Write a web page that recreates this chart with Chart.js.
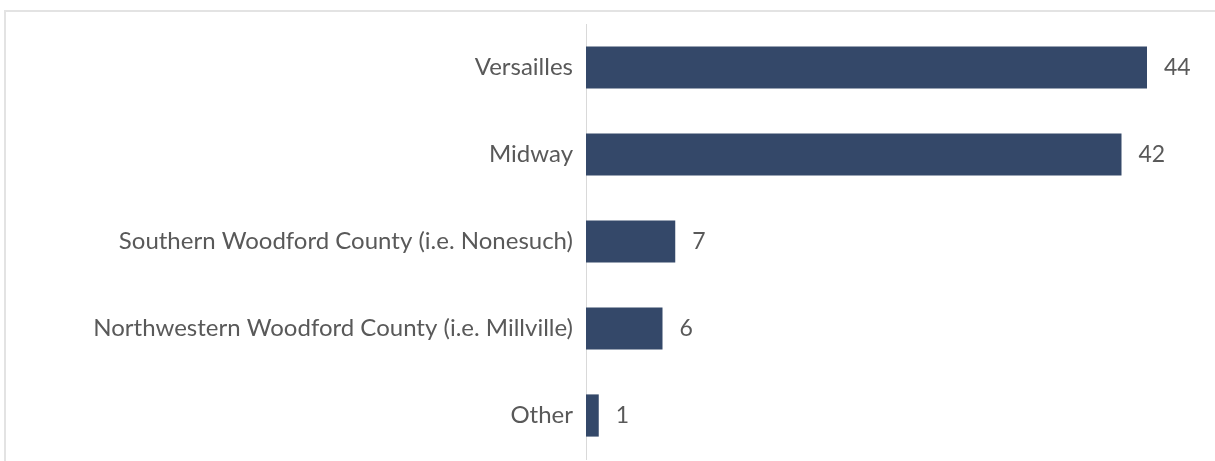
<!DOCTYPE html>
<html>
<head>
<meta charset="utf-8">
<script src="https://cdn.jsdelivr.net/npm/chart.js@4"></script>
<style>
  html, body { margin: 0; padding: 0; background: #fff; overflow: hidden; }
  #frame { position: absolute; left: 4px; top: 10px; width: 1220px; height: 470px;
           border-top: 2px solid #e3e3e3; border-left: 2px solid #e3e3e3; }
  #chart { position: absolute; left: 0; top: 0; }
</style>
</head>
<body>
<div id="frame"></div>
<canvas id="chart" width="1215" height="461"></canvas>
<script>
// dados do gráfico
const categories = [
  'Versailles',
  'Midway',
  'Southern Woodford County (i.e. Nonesuch)',
  'Northwestern Woodford County (i.e. Millville)',
  'Other'
];
const counts = [44, 42, 7, 6, 1];

const barColor = '#344869';
const textColor = '#595959';
const fontFamily = 'Lato, "Open Sans", sans-serif';

// rótulos de valor ao lado das barras
const valueLabels = {
  id: 'valueLabels',
  afterDatasetsDraw(chart) {
    const ctx = chart.ctx;
    const meta = chart.getDatasetMeta(0);
    ctx.save();
    ctx.font = '23px ' + fontFamily;
    ctx.fillStyle = textColor;
    ctx.textAlign = 'left';
    ctx.textBaseline = 'middle';
    meta.data.forEach((bar, i) => {
      ctx.fillText(String(counts[i]), bar.x + 17, bar.y);
    });
    ctx.restore();
  }
};

const ctx = document.getElementById('chart');
new Chart(ctx, {
  type: 'bar',
  data: {
    labels: categories,
    datasets: [{
      data: counts,
      backgroundColor: barColor,
      borderWidth: 0,
      categoryPercentage: 1,
      barPercentage: 0.485
    }]
  },
  options: {
    indexAxis: 'y',
    responsive: false,
    animation: false,
    layout: { padding: { top: 24, bottom: 2, right: 17 } },
    plugins: {
      legend: { display: false },
      tooltip: { enabled: false }
    },
    scales: {
      x: {
        display: false,
        min: 0,
        max: 48
      },
      y: {
        grid: { display: false, drawTicks: false },
        border: { display: true, color: '#d9d9d9', width: 1 },
        ticks: {
          color: textColor,
          padding: 13,
          font: { family: fontFamily, size: 24 }
        },
        afterFit(scale) {
          scale.width = 586;
          // sem espaço extra para os rótulos nas pontas
          scale.paddingTop = 0;
          scale.paddingBottom = 0;
        }
      }
    }
  },
  plugins: [valueLabels]
});
</script>
</body>
</html>
